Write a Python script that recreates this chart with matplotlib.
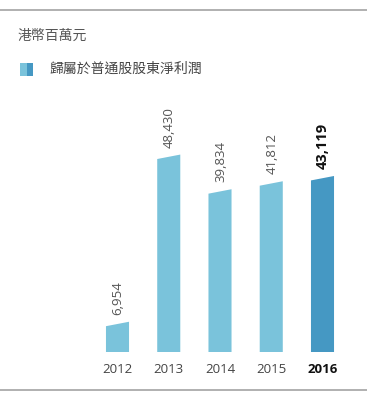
import matplotlib
matplotlib.use("Agg")
import matplotlib.pyplot as plt
from matplotlib.lines import Line2D
from matplotlib.patches import Rectangle

# data
years = ["2012", "2013", "2014", "2015", "2016"]
profit = [6954, 48430, 39834, 41812, 43119]
value_labels = ["6,954", "48,430", "39,834", "41,812", "43,119"]

unit_label = "港幣百萬元"
series_label = "歸屬於普通股股東淨利潤"

light = "#7ac3db"
dark = "#4598c3"
grey_txt = "#555555"
W, H = 367, 401

fig = plt.figure(figsize=(W / 100, H / 100), dpi=100)

# axes placed in pixel terms
left, right = 76.5, 353.25
bottom, top = 49, 311
ax = fig.add_axes([left / W, bottom / H, (right - left) / W, (top - bottom) / H])
ax.set_xlim(-0.8, 4.6)
ax.set_ylim(0, 65000)
for s in ax.spines.values():
    s.set_visible(False)
ax.set_yticks([])

bar_w = 0.45
slant = 550  # half the rise of the slanted top, data units

for i, (yr, v, lab) in enumerate(zip(years, profit, value_labels)):
    last = i == len(years) - 1
    col = dark if last else light
    xs = [i - bar_w / 2, i + bar_w / 2, i + bar_w / 2, i - bar_w / 2]
    ys = [0, 0, v + slant, v - slant]
    ax.fill(xs, ys, color=col, lw=0)
    ax.annotate(lab, (i, v + slant), xytext=(0.5, 5), textcoords="offset points",
                rotation=90, ha="center", va="bottom",
                fontsize=10.5 if last else 9.5,
                family=["Open Sans", "DejaVu Sans"],
                color="#111111" if last else grey_txt,
                fontweight="bold" if last else "normal")

ax.set_xticks(range(len(years)))
ax.set_xticklabels(years, family=["Open Sans", "DejaVu Sans"], fontsize=9.5, color="#444444")
ax.tick_params(axis="x", length=0, pad=8)
tl = ax.get_xticklabels()[-1]
tl.set_fontweight("bold")
tl.set_color("#111111")

# header text and legend marker
fig.text(18 / W, 1 - 36 / H, unit_label, family=["Noto Sans CJK TC"], fontsize=10,
         color="#555555", va="center", ha="left", style="italic")
fig.add_artist(Rectangle((20 / W, 1 - 76 / H), 7 / W, 13 / H, transform=fig.transFigure,
                         color=light, lw=0))
fig.add_artist(Rectangle((27 / W, 1 - 76 / H), 6 / W, 13 / H, transform=fig.transFigure,
                         color=dark, lw=0))
fig.text(49 / W, 1 - 69 / H, series_label, family=["Noto Sans CJK TC"], fontsize=10,
         color="#444444", va="center", ha="left")

# horizontal rules
fig.add_artist(Line2D([0, 1], [1 - 10 / H, 1 - 10 / H], transform=fig.transFigure,
                      color="#aaaaaa", lw=1.3))
fig.add_artist(Line2D([0, 1], [1 - 390 / H, 1 - 390 / H], transform=fig.transFigure,
                      color="#aaaaaa", lw=1.3))

fig.savefig("out.png", dpi=100)
